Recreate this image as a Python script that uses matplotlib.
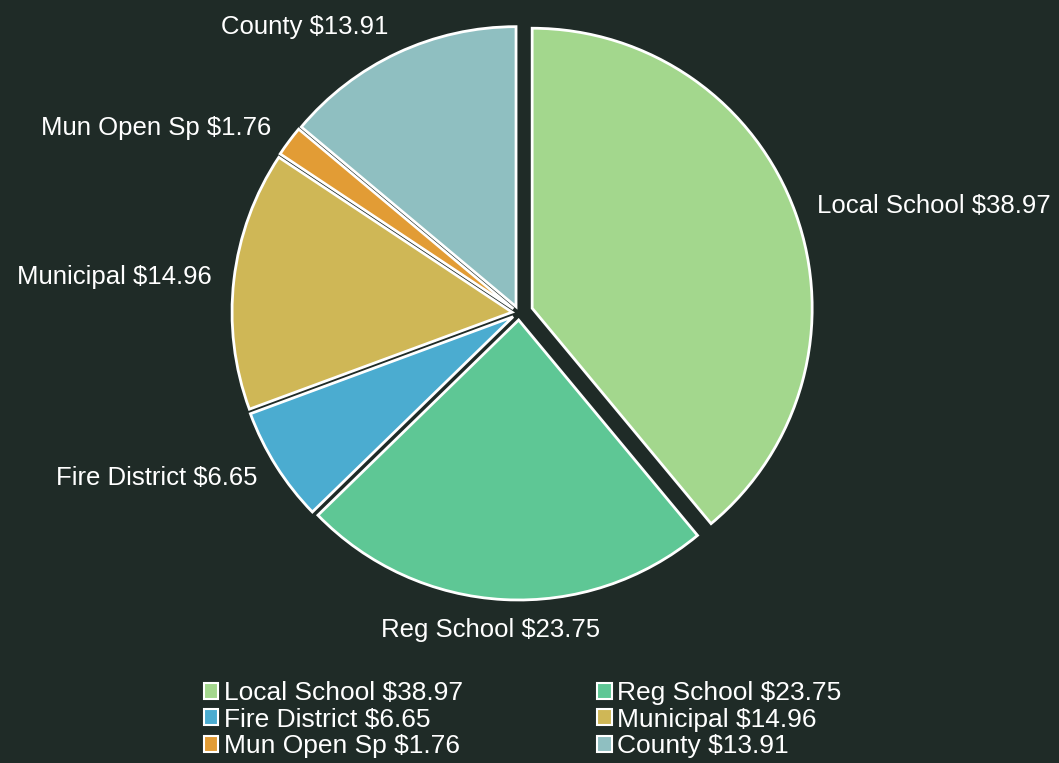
import matplotlib.pyplot as plt
from matplotlib.patches import Patch

plt.rcParams['font.family'] = ['Liberation Sans', 'DejaVu Sans']

# tax breakdown per $100
categories = ['Local School', 'Reg School', 'Fire District', 'Municipal', 'Mun Open Sp', 'County']
values = [38.97, 23.75, 6.65, 14.96, 1.76, 13.91]
colors = ['#a3d78d', '#5ec795', '#4bacd0', '#cfb756', '#e29c35', '#8fbfc1']
explode = [0.05, 0.025, 0.025, 0.025, 0.025, 0.025]
bg = '#1f2b27'

labels = [f'{c} ${v:.2f}' for c, v in zip(categories, values)]

fig = plt.figure(figsize=(10.59, 7.63), dpi=100, facecolor=bg)
ax = fig.add_axes([0, 0, 1, 1])
ax.set_facecolor(bg)

R = 280  # radius in px

wedges, texts = ax.pie(values, labels=labels, colors=colors, explode=explode,
                       startangle=90, counterclock=False, labeldistance=1.08,
                       wedgeprops=dict(edgecolor='white', linewidth=2),
                       textprops=dict(color='white', fontsize=18.5))
# the bottom label sits centred under its slice
texts[1].set_ha('center')
x, y = texts[1].get_position()
texts[1].set_position((x - 12 / R, y - 8 / R))
x, y = texts[5].get_position()
texts[5].set_position((x, y + 6 / R))

# centre at (519, 313) px
ax.set_aspect('auto')
ax.set_xlim(-519 / R, (1059 - 519) / R)
ax.set_ylim(-(763 - 313) / R, 313 / R)
ax.axis('off')

# legend is filled row by row in the reference
order = [0, 2, 4, 1, 3, 5]
handles = [Patch(facecolor=colors[i], edgecolor='white', linewidth=1.5) for i in order]
leg = fig.legend(handles, [labels[i] for i in order], loc='lower left',
                 bbox_to_anchor=(0.17, -0.025),
                 ncol=2, frameon=False, fontsize=19, labelcolor='white',
                 handlelength=0.55, handleheight=0.55, handletextpad=0.2,
                 columnspacing=5.1, labelspacing=0.1)

fig.savefig('out.png', dpi=100, facecolor=bg)
